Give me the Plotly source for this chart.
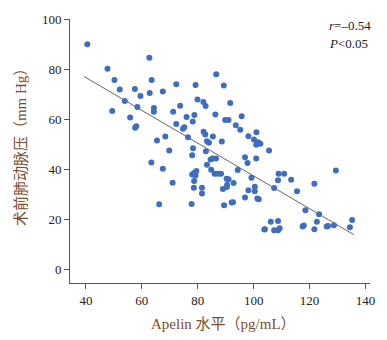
import plotly.graph_objects as go

apelin = [40.5, 47.7, 50.2, 52.1, 53.9, 49.4, 55.8, 57.5, 58.4, 58.0, 57.6, 59.5,
          62.7, 63.5, 62.8, 64.3, 64.3, 63.4, 65.4, 66.2, 67.5, 67.5, 68.4, 69.8,
          71.0, 71.2, 72.3, 72.3, 73.7, 76.0, 76.5, 75.2, 74.7, 77.8, 78.0, 78.7,
          79.2, 78.7, 78.6, 79.5, 78.3, 78.0, 78.2, 78.8, 79.2, 79.9, 82.0, 82.8,
          86.6, 89.3, 91.6, 86.3, 89.8, 91.0, 95.7, 93.6, 95.2, 82.1, 82.7, 85.4,
          83.3, 84.0, 88.6, 98.1, 101.0, 100.1, 101.6, 100.9, 102.4, 105.5, 82.9, 85.3,
          86.5, 84.6, 83.3, 84.8, 86.0, 87.2, 88.3, 90.3, 91.0, 94.3, 96.9, 97.8,
          100.9, 99.2, 81.5, 81.5, 89.0, 90.4, 90.5, 92.8, 98.1, 100.4, 100.4, 101.3,
          101.8, 96.9, 89.4, 92.1, 92.6, 103.8, 108.9, 110.9, 108.7, 113.4, 107.3, 115.5,
          121.7, 129.4, 118.5, 123.4, 122.6, 117.9, 117.5, 121.7, 126.1, 126.6, 128.7, 135.2,
          134.4, 106.1, 108.7, 104.0, 107.3, 108.7, 109.3]
pap = [90.2, 80.4, 75.9, 72.0, 67.4, 63.4, 60.8, 72.2, 65.0, 57.3, 56.7, 69.4,
       84.8, 75.9, 70.6, 64.6, 63.1, 42.8, 51.6, 26.1, 71.2, 40.3, 53.2, 47.6,
       34.7, 63.1, 74.2, 58.2, 65.5, 61.0, 52.9, 56.9, 56.3, 26.2, 38.0, 38.6,
       37.6, 35.4, 32.7, 39.4, 48.5, 45.7, 59.2, 61.8, 73.8, 68.0, 67.0, 65.4,
       78.2, 73.6, 66.6, 62.0, 59.8, 59.8, 61.3, 57.7, 55.9, 55.1, 54.0, 53.2,
       51.3, 50.7, 51.2, 53.3, 54.9, 52.0, 50.9, 49.9, 50.3, 47.6, 47.3, 44.4,
       44.4, 44.0, 41.9, 39.9, 38.3, 38.3, 38.3, 36.3, 36.1, 39.8, 44.9, 42.6,
       44.4, 36.7, 32.7, 30.4, 32.2, 33.0, 33.9, 34.6, 31.7, 33.1, 31.3, 28.4,
       28.1, 28.8, 25.7, 26.8, 26.9, 15.9, 38.3, 38.3, 35.7, 35.9, 32.6, 31.3,
       34.3, 39.6, 23.7, 22.1, 19.0, 17.5, 17.1, 16.0, 17.1, 17.3, 17.6, 19.7,
       16.8, 19.0, 19.3, 16.0, 15.6, 15.6, 16.4]

fit_slope = -0.657
fit_intercept = 103.1
fit_x = [39.3, 135.8]

x_ticks = [40, 60, 80, 100, 120, 140]
y_ticks = [0, 20, 40, 60, 80, 100]

serif = "Liberation Serif, Times New Roman, Noto Sans CJK SC"
title_color = "#7a4d2c"

fig = go.Figure()
fig.add_trace(go.Scatter(
    x=fit_x, y=[fit_intercept + fit_slope * v for v in fit_x],
    mode="lines", line=dict(color="#666666", width=1), hoverinfo="skip"))
fig.add_trace(go.Scatter(
    x=apelin, y=pap, mode="markers",
    marker=dict(color="#3F6DBF", size=6, line=dict(width=0))))

axis_common = dict(showgrid=False, zeroline=False, showline=True,
                   linecolor="#555555", linewidth=1, ticks="outside",
                   ticklen=5, tickcolor="#555555",
                   tickfont=dict(family=serif, size=13, color="#222222"))
fig.update_xaxes(range=[34.3, 141.6], tickvals=x_ticks, **axis_common)
fig.update_yaxes(range=[-5.5, 100.3], tickvals=y_ticks, **axis_common)

fig.add_annotation(text="术前肺动脉压（mm Hg）", xref="paper", yref="paper",
                   x=-0.165, y=0.528, textangle=-90, showarrow=False,
                   xanchor="center", yanchor="middle",
                   font=dict(family=serif, size=15, color=title_color))
fig.add_annotation(text="Apelin 水平（pg/mL）", xref="paper", yref="paper",
                   x=0.512, y=-0.155, showarrow=False,
                   xanchor="center", yanchor="middle",
                   font=dict(family=serif, size=15, color=title_color))
fig.add_annotation(text="<i>r</i>=–0.54", xref="paper", yref="paper",
                   x=0.858, y=0.974, showarrow=False, xanchor="left", yanchor="middle",
                   font=dict(family=serif, size=13, color="#222222"))
fig.add_annotation(text="<i>P</i><0.05", xref="paper", yref="paper",
                   x=0.858, y=0.906, showarrow=False, xanchor="left", yanchor="middle",
                   font=dict(family=serif, size=13, color="#222222"))

fig.update_layout(width=387, height=340, showlegend=False,
                  margin=dict(l=70, r=14, t=18, b=57),
                  plot_bgcolor="white", paper_bgcolor="white")
fig.write_html("out.html")
